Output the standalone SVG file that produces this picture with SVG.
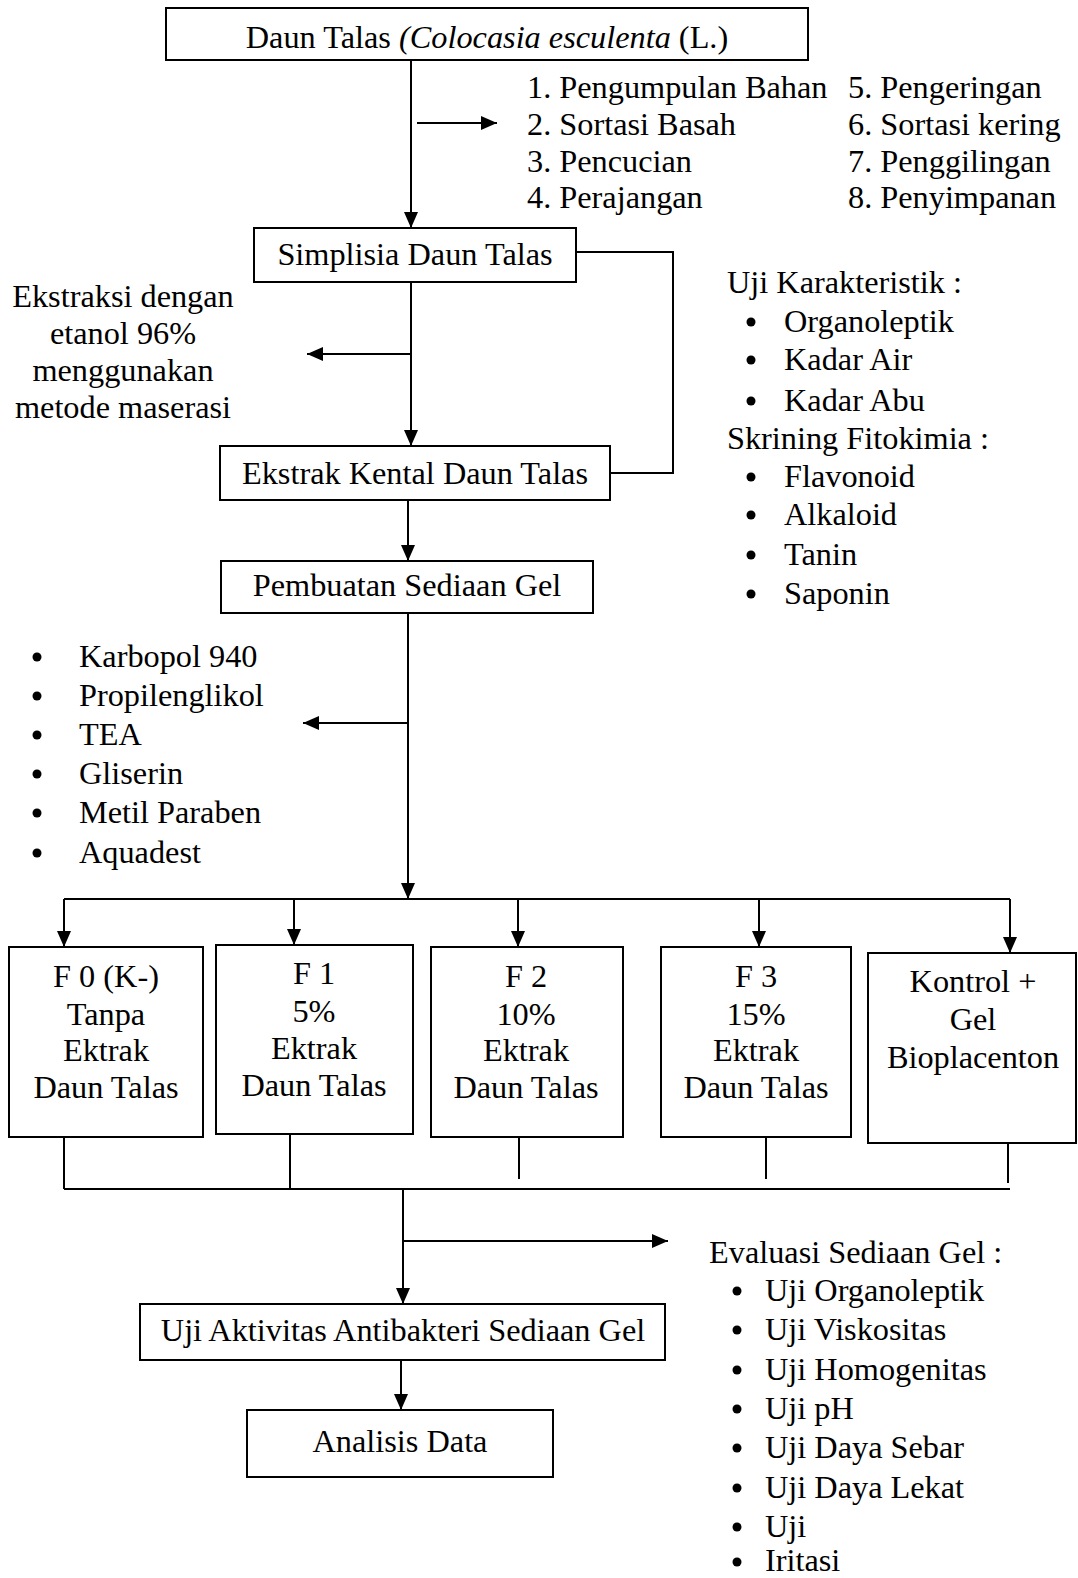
<svg xmlns="http://www.w3.org/2000/svg" width="1078" height="1578" viewBox="0 0 1078 1578">
<defs>
<style>
text{font-family:"Liberation Serif","Times New Roman",serif;font-size:32.3px;fill:#000}
.c{text-anchor:middle}
.box{fill:#fff;stroke:#000;stroke-width:2}
.ln{fill:none;stroke:#000;stroke-width:2}
.ar{fill:none;stroke:#000;stroke-width:2;marker-end:url(#ah)}
</style>
<marker id="ah" markerWidth="16" markerHeight="14" refX="16" refY="7" orient="auto" markerUnits="userSpaceOnUse"><path d="M0,0 L16,7 L0,14 z" fill="#000"/></marker>
</defs>
<rect width="1078" height="1578" fill="#fff"/>

<g id="connectors">
<line class="ar" x1="411" y1="60" x2="411" y2="228"/>
<line class="ar" x1="417" y1="123" x2="497" y2="123"/>
<polyline class="ln" points="576,252 673,252 673,473 610,473"/>
<line class="ar" x1="411" y1="282" x2="411" y2="446"/>
<line class="ar" x1="411" y1="354" x2="307" y2="354"/>
<line class="ar" x1="408" y1="500" x2="408" y2="561"/>
<line class="ar" x1="408" y1="613" x2="408" y2="899"/>
<line class="ar" x1="408" y1="723" x2="303" y2="723"/>
<line class="ln" x1="64" y1="899" x2="1010" y2="899"/>
<line class="ar" x1="64" y1="899" x2="64" y2="947"/>
<line class="ar" x1="294" y1="899" x2="294" y2="945"/>
<line class="ar" x1="518" y1="899" x2="518" y2="947"/>
<line class="ar" x1="759" y1="899" x2="759" y2="947"/>
<line class="ar" x1="1010" y1="899" x2="1010" y2="953"/>
<line class="ln" x1="64" y1="1137" x2="64" y2="1189"/>
<line class="ln" x1="290" y1="1134" x2="290" y2="1189"/>
<line class="ln" x1="519" y1="1137" x2="519" y2="1179"/>
<line class="ln" x1="766" y1="1137" x2="766" y2="1179"/>
<line class="ln" x1="1008" y1="1143" x2="1008" y2="1183"/>
<line class="ln" x1="64" y1="1189" x2="1010" y2="1189"/>
<line class="ar" x1="403" y1="1189" x2="403" y2="1304"/>
<line class="ar" x1="403" y1="1241" x2="668" y2="1241"/>
<line class="ar" x1="401" y1="1360" x2="401" y2="1410"/>
</g>

<g id="node-daun">
<rect class="box" x="166" y="8" width="642" height="52"/>
<text class="c" x="487" y="48">Daun Talas <tspan font-style="italic">(Colocasia esculenta</tspan> (L.)</text>
</g>

<g id="note-steps">
<text x="527" y="98">1. Pengumpulan Bahan</text>
<text x="527" y="135">2. Sortasi Basah</text>
<text x="527" y="172">3. Pencucian</text>
<text x="527" y="208">4. Perajangan</text>
<text x="848" y="98">5. Pengeringan</text>
<text x="848" y="135">6. Sortasi kering</text>
<text x="848" y="172">7. Penggilingan</text>
<text x="848" y="208">8. Penyimpanan</text>
</g>

<g id="node-simplisia">
<rect class="box" x="254" y="228" width="322" height="54"/>
<text class="c" x="415" y="265">Simplisia Daun Talas</text>
</g>

<g id="note-ekstraksi">
<text class="c" x="123" y="307">Ekstraksi dengan</text>
<text class="c" x="123" y="344">etanol 96%</text>
<text class="c" x="123" y="381">menggunakan</text>
<text class="c" x="123" y="418">metode maserasi</text>
</g>

<g id="note-uji">
<text x="727" y="293">Uji Karakteristik :</text>
<circle cx="751" cy="322" r="4.5"/><text x="784" y="332">Organoleptik</text>
<circle cx="751" cy="360" r="4.5"/><text x="784" y="370">Kadar Air</text>
<circle cx="751" cy="401" r="4.5"/><text x="784" y="411">Kadar Abu</text>
<text x="727" y="449">Skrining Fitokimia :</text>
<circle cx="751" cy="477" r="4.5"/><text x="784" y="487">Flavonoid</text>
<circle cx="751" cy="515" r="4.5"/><text x="784" y="525">Alkaloid</text>
<circle cx="751" cy="555" r="4.5"/><text x="784" y="565">Tanin</text>
<circle cx="751" cy="594" r="4.5"/><text x="784" y="604">Saponin</text>
</g>

<g id="node-ekstrak">
<rect class="box" x="220" y="446" width="390" height="54"/>
<text class="c" x="415" y="484">Ekstrak Kental Daun Talas</text>
</g>

<g id="node-pembuatan">
<rect class="box" x="221" y="561" width="372" height="52"/>
<text class="c" x="407" y="596">Pembuatan Sediaan Gel</text>
</g>

<g id="note-bahan">
<circle cx="37" cy="657" r="4.5"/><text x="79" y="667">Karbopol 940</text>
<circle cx="37" cy="696" r="4.5"/><text x="79" y="706">Propilenglikol</text>
<circle cx="37" cy="735" r="4.5"/><text x="79" y="745">TEA</text>
<circle cx="37" cy="774" r="4.5"/><text x="79" y="784">Gliserin</text>
<circle cx="37" cy="813" r="4.5"/><text x="79" y="823">Metil Paraben</text>
<circle cx="37" cy="853" r="4.5"/><text x="79" y="863">Aquadest</text>
</g>

<g id="node-f0">
<rect class="box" x="9" y="947" width="194" height="190"/>
<text class="c" x="106" y="987">F 0 (K-)</text>
<text class="c" x="106" y="1025">Tanpa</text>
<text class="c" x="106" y="1061">Ektrak</text>
<text class="c" x="106" y="1098">Daun Talas</text>
</g>
<g id="node-f1">
<rect class="box" x="216" y="945" width="197" height="189"/>
<text class="c" x="314" y="984">F 1</text>
<text class="c" x="314" y="1022">5%</text>
<text class="c" x="314" y="1059">Ektrak</text>
<text class="c" x="314" y="1096">Daun Talas</text>
</g>
<g id="node-f2">
<rect class="box" x="431" y="947" width="192" height="190"/>
<text class="c" x="526" y="987">F 2</text>
<text class="c" x="526" y="1025">10%</text>
<text class="c" x="526" y="1061">Ektrak</text>
<text class="c" x="526" y="1098">Daun Talas</text>
</g>
<g id="node-f3">
<rect class="box" x="661" y="947" width="190" height="190"/>
<text class="c" x="756" y="987">F 3</text>
<text class="c" x="756" y="1025">15%</text>
<text class="c" x="756" y="1061">Ektrak</text>
<text class="c" x="756" y="1098">Daun Talas</text>
</g>
<g id="node-kontrol">
<rect class="box" x="868" y="953" width="208" height="190"/>
<text class="c" x="973" y="992">Kontrol +</text>
<text class="c" x="973" y="1030">Gel</text>
<text class="c" x="973" y="1068">Bioplacenton</text>
</g>

<g id="node-uji-aktivitas">
<rect class="box" x="140" y="1304" width="525" height="56"/>
<text class="c" x="403" y="1341">Uji Aktivitas Antibakteri Sediaan Gel</text>
</g>

<g id="note-evaluasi">
<text x="709" y="1263">Evaluasi Sediaan Gel :</text>
<circle cx="737" cy="1291" r="4.5"/><text x="765" y="1301">Uji Organoleptik</text>
<circle cx="737" cy="1330" r="4.5"/><text x="765" y="1340">Uji Viskositas</text>
<circle cx="737" cy="1370" r="4.5"/><text x="765" y="1380">Uji Homogenitas</text>
<circle cx="737" cy="1409" r="4.5"/><text x="765" y="1419">Uji pH</text>
<circle cx="737" cy="1448" r="4.5"/><text x="765" y="1458">Uji Daya Sebar</text>
<circle cx="737" cy="1488" r="4.5"/><text x="765" y="1498">Uji Daya Lekat</text>
<circle cx="737" cy="1527" r="4.5"/><text x="765" y="1537">Uji</text>
<circle cx="737" cy="1562" r="4.5"/><text x="765" y="1571">Iritasi</text>
</g>

<g id="node-analisis">
<rect class="box" x="247" y="1410" width="306" height="67"/>
<text class="c" x="400" y="1452">Analisis Data</text>
</g>
</svg>
